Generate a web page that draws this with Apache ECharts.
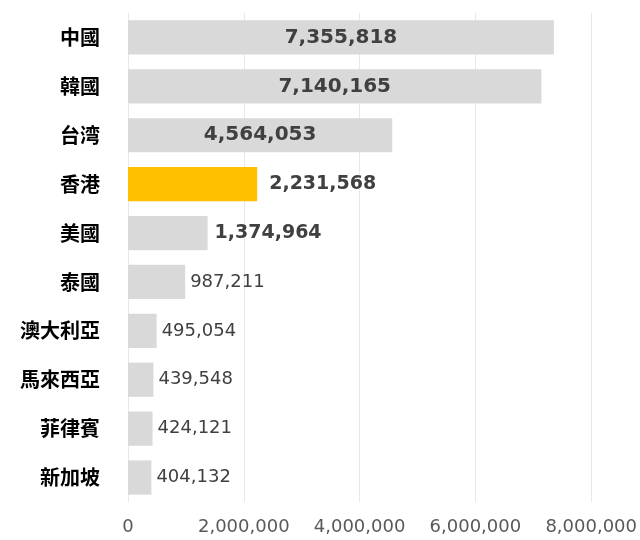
<!DOCTYPE html>
<html>
<head>
<meta charset="utf-8">
<script src="https://cdn.jsdelivr.net/npm/echarts@6/dist/echarts.min.js"></script>
<style>
  html, body { margin: 0; padding: 0; background: #fff; }
  #chart { width: 640px; height: 540px; }
</style>
</head>
<body>
<div id="chart"></div>
<script>
// 訪客人數（國家/地區別）
const countries = ['中國', '韓國', '台湾', '香港', '美國', '泰國', '澳大利亞', '馬來西亞', '菲律賓', '新加坡']
const visitors = [7355818, 7140165, 4564053, 2231568, 1374964, 987211, 495054, 439548, 424121, 404132]
const xTicks = [0, 2000000, 4000000, 6000000, 8000000]
const highlight = '香港'

const fmt = v => v.toLocaleString('en-US')

// label look per bar (bigger numbers drawn larger, top three inside the bar)
function labelFor (v, name) {
  if (v > 4000000) return { position: 'inside', fontSize: 20, fontWeight: 'bold' }
  if (v > 1000000) {
    return { position: 'right', fontSize: 19, fontWeight: 'bold', distance: name === highlight ? 12 : 7 }
  }
  return { position: 'right', fontSize: 18, fontWeight: 'normal', distance: 5 }
}

const items = visitors.map((v, i) => ({
  value: v,
  itemStyle: { color: countries[i] === highlight ? '#ffc000' : '#d9d9d9' },
  label: labelFor(v, countries[i])
}))

let myChart = echarts.init(document.getElementById('chart'))
myChart.setOption({
  animation: false,
  grid: { left: 128, right: 47, top: 13, bottom: 38 },
  xAxis: {
    type: 'value',
    min: xTicks[0],
    max: xTicks[xTicks.length - 1],
    interval: xTicks[1] - xTicks[0],
    axisLine: { show: false },
    axisTick: { show: false },
    axisLabel: {
      color: '#595959',
      fontFamily: 'DejaVu Sans',
      fontSize: 18,
      margin: 16,
      formatter: v => fmt(v)
    },
    splitLine: { lineStyle: { color: '#e8e8e8', width: 1 } }
  },
  yAxis: {
    type: 'category',
    inverse: true,
    data: countries,
    axisLine: { show: false },
    axisTick: { show: false },
    axisLabel: {
      color: '#000',
      fontFamily: 'Noto Sans CJK TC',
      fontWeight: 'bold',
      fontSize: 20,
      margin: 28
    }
  },
  series: [
    {
      type: 'bar',
      data: items,
      barCategoryGap: '30%',
      label: {
        show: true,
        color: '#404040',
        fontFamily: 'DejaVu Sans',
        formatter: p => fmt(p.value)
      }
    }
  ]
})
</script>
</body>
</html>
